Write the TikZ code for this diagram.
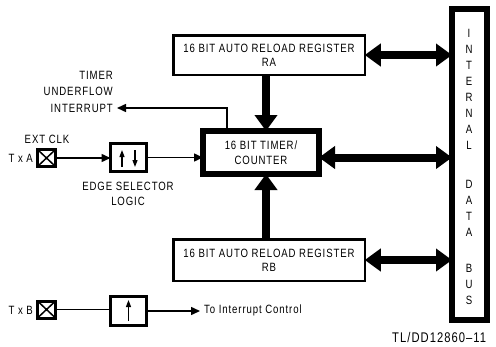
\documentclass[tikz,border=0pt]{standalone}
\usepackage{fontspec}
\setmainfont[FakeStretch=0.8,LetterSpace=7.5]{Liberation Sans}
\usetikzlibrary{arrows.meta,calc}
\begin{document}
\begin{tikzpicture}[x=1pt,y=-1pt,
  lbl/.style={font=\fontsize{12}{14}\selectfont, inner sep=0pt, align=center},
  regbox/.style={draw, line width=2.5pt, minimum width=191.5pt, outer sep=0pt, inner sep=0pt, align=center, font=\fontsize{12}{14}\selectfont},
  timerbox/.style={draw, line width=6pt, minimum width=116pt, minimum height=43pt, outer sep=0pt, inner sep=0pt, align=center, font=\fontsize{12}{15}\selectfont},
  smallbox/.style={draw, line width=3pt, minimum width=36pt, outer sep=0pt, inner sep=0pt},
  xbox/.style={draw, line width=3pt, minimum width=18pt, minimum height=17pt, outer sep=0pt, inner sep=0pt},
  busbox/.style={draw, line width=6pt, minimum width=35pt, minimum height=311pt, outer sep=0pt, inner sep=0pt},
  bigdbl/.style={line width=8pt, {Triangle[width=22pt,length=16pt]}-{Triangle[width=22pt,length=16pt]}},
  bigarr/.style={line width=8pt, -{Triangle[width=22pt,length=16pt]}},
  thinarr/.style={line width=1.5pt, -{Triangle[width=8pt,length=9pt]}},
  thinline/.style={line width=1.5pt},
  smallarr/.style={line width=1.2pt, -{Triangle[width=5pt,length=7pt]}}
]
\useasboundingbox (0,0) rectangle (496,346);

% internal data bus
\node[busbox] (bus) at (469.5,164.5) {};
\foreach \ch/\yy [count=\i] in {I/33,N/49,T/65,E/81,R/97,N/113,A/129,L/145,D/184,A/200,T/216,A/232,B/268,U/284,S/300}
  \node[lbl] (bl\i) at (469,\yy) {\ch};

% registers and timer
\node[regbox, minimum height=39.5pt] (RA) at (269,55) {16 BIT AUTO RELOAD REGISTER\\RA};
\node[regbox, minimum height=41.5pt] (RB) at (269,260) {16 BIT AUTO RELOAD REGISTER\\RB};
\node[timerbox] (T) at (261,152.5) {\raisebox{-2pt}{\shortstack{16 BIT TIMER/\\[3pt]COUNTER}}};

% big connectors
\draw[bigdbl] (RA.east) -- (RA.east -| bus.west);
\draw[bigdbl] ([yshift=-5pt]T.east) -- ([yshift=-5pt]T.east -| bus.west);
\draw[bigdbl] (RB.east) -- (RB.east -| bus.west);
\draw[bigarr] ([xshift=-3pt]RA.south) -- ([xshift=-3pt]RA.south |- T.north);
\draw[bigarr] ([xshift=-3pt]RB.north) -- ([xshift=-3pt]RB.north |- T.south);

% timer underflow
\node[lbl, align=right, anchor=east, font=\fontsize{12}{16.5}\selectfont] (tui) at (113,91.5) {TIMER\\UNDERFLOW\\INTERRUPT};
\coordinate (ufend) at (117,108);
\draw[thinarr] ([xshift=-34pt]T.north) |- (ufend);

% TxA path
\node[lbl] (extclk) at (47,139) {EXT CLK};
\node[lbl, anchor=east] (txa) at (33,158) {T x A};
\node[xbox] (xA) at (46.5,158) {};
\draw[thinline] (xA.north west) -- (xA.south east) (xA.north east) -- (xA.south west);
\node[smallbox, minimum height=28pt] (E) at (128.5,157.5) {};
\draw[smallarr] ([xshift=-6.5pt,yshift=-9.5pt]E.center) -- ([xshift=-6.5pt,yshift=7.5pt]E.center);
\draw[smallarr] ([xshift=6.5pt,yshift=7.5pt]E.center) -- ([xshift=6.5pt,yshift=-9.5pt]E.center);
\node[lbl, font=\fontsize{12}{15}\selectfont] (esl) at (128,193.5) {EDGE SELECTOR\\LOGIC};
\draw[thinarr] (xA.east) -- (xA.east -| E.west);
\draw[thinarr] (E.east) -- (E.east -| T.west);

% TxB path
\node[lbl, anchor=east] (txb) at (33,310) {T x B};
\node[xbox] (xB) at (46.5,309.5) {};
\draw[thinline] (xB.north west) -- (xB.south east) (xB.north east) -- (xB.south west);
\node[smallbox, minimum height=29pt] (B2) at (128.5,311) {};
\draw[smallarr] ([yshift=-10pt]B2.center) -- ([yshift=11pt]B2.center);
\draw[thinline] (xB.east) -- (xB.east -| B2.west);
\node[lbl, anchor=west, inner sep=4pt] (toint) at (200,310) {To Interrupt Control};
\draw[thinarr] (B2.east) -- (B2.east -| toint.west);

% figure id
\node[font=\fontsize{14}{16}\selectfont, anchor=base west, inner sep=0pt] (tl) at (392,342.5) {TL/DD12860--11};
\end{tikzpicture}
\end{document}
